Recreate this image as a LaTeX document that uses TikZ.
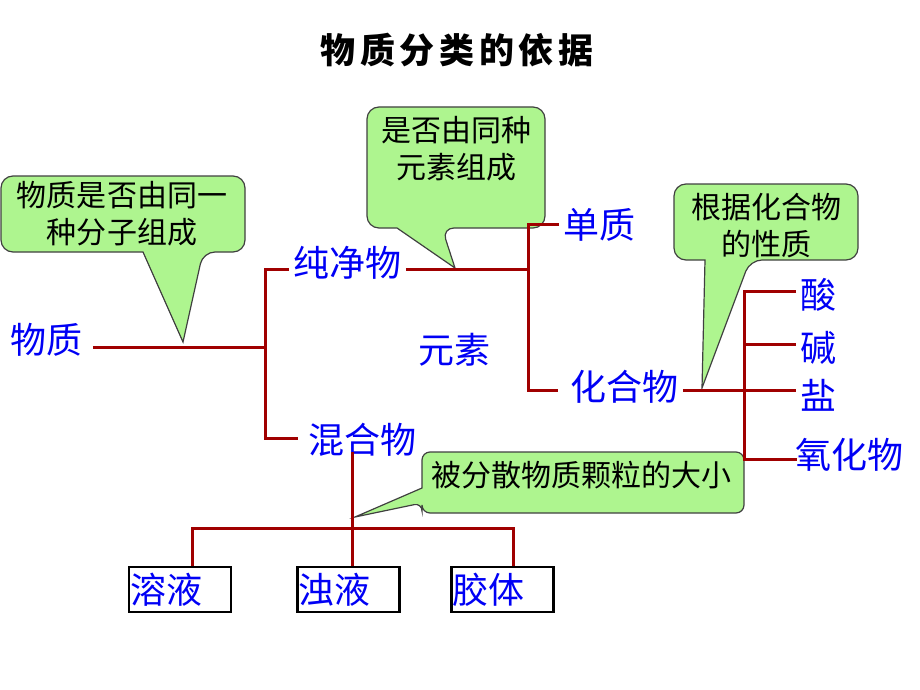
\documentclass[tikz,border=0pt]{standalone}
\usepackage{fontspec}
\setmainfont{Noto Sans CJK SC}
\usetikzlibrary{positioning}
\definecolor{linkred}{RGB}{160,0,0}
\definecolor{leafblue}{RGB}{0,0,245}
\definecolor{bubblegreen}{RGB}{174,245,143}
\begin{document}
\begin{tikzpicture}[x=0.5pt, y=-0.5pt,
  title/.style={font=\bfseries\fontsize{17.5}{20}\selectfont\addfontfeatures{LetterSpace=13}},
  leaf/.style={font=\fontsize{18}{21}\selectfont, text=leafblue, inner xsep=2pt, inner ysep=1pt, anchor=west},
  note/.style={font=\fontsize{15}{18.5}\selectfont, align=center, inner sep=0pt},
  bubble/.style={fill=bubblegreen, draw=black!75, line width=0.6pt, rounded corners=6pt},
  tube/.style={draw, line width=1.2pt, font=\fontsize{18}{21}\selectfont, text=leafblue,
    text width=50pt, align=left, inner xsep=0.5pt, inner ysep=0.5pt, minimum height=22.5pt},
  branch/.style={draw=linkred, line width=1.5pt}
]
\useasboundingbox (0,0) rectangle (920,690);

% Title
\node[title] (head) at (457,50) {物质分类的依据};

% ============================================
% Callout bubbles
% ============================================
\path[bubble] (60,176) -- (245,176) -- (245,252) -- (203,252) [sharp corners] -- (183,342)
  -- (143,252) [rounded corners=6pt] -- (1,252) -- (1,176) -- cycle;
\node[note] (why1) at (122,214) {物质是否由同一\\种分子组成};

\path[bubble] (456,107) -- (545,107) -- (545,228) -- (442,228) [sharp corners] -- (455,268)
  -- (397,228) [rounded corners=6pt] -- (367,228) -- (367,107) -- cycle;
\node[note] (why2) at (456,149) {是否由同种\\元素组成};

\path[bubble] (766,184) -- (858,184) -- (858,260) -- (750,260) [sharp corners] -- (702,388)
  -- (705,260) [rounded corners=6pt] -- (674,260) -- (674,184) -- cycle;
\node[note] (why3) at (766,226) {根据化合物\\的性质};

\path[bubble, rounded corners=4pt] (580,452) -- (744,452) -- (744,513) -- (422,513) -- (422,503)
  [sharp corners] -- (355,517) -- (422,488) [rounded corners=4pt] -- (422,452) -- cycle;
\node[note] (why4) at (581,475) {被分散物质颗粒的大小};

% ============================================
% Classes
% ============================================
\node[leaf] (matter) at (6,340) {物质};
\node[leaf] (pure) at (289,263) {纯净物};
\node[leaf] (mix) at (304,440) {混合物};
\node[leaf] (elem) at (414,350) {元素};
\node[leaf] (simple) at (559,225) {单质};
\node[leaf] (comp) at (566,387) {化合物};
\node[leaf] (acid) at (796,295) {酸};
\node[leaf] (base) at (796,348) {碱};
\node[leaf] (salt) at (796,395) {盐};
\node[leaf] (oxide) at (791,455) {氧化物};

\node[tube] (sol) at (180,589.5) {溶液};
\node[tube] (susp) at (348.5,589.5) {浊液};
\node[tube] (coll) at (502.5,589.5) {胶体};

% ============================================
% Links
% ============================================
\coordinate (aM) at (265,347);
\coordinate (aT) at (265,269);
\coordinate (aB) at (265,438);
\draw[branch, shorten <=3pt] (matter.east |- aM) -- (aM);
\draw[branch, shorten >=-0.5pt] (pure.west |- aT) -- (aT) -- (aB) -- ([xshift=-3.5pt]mix.west |- aB);

\coordinate (bT) at (528,224);
\coordinate (bM) at (528,269);
\coordinate (bB) at (528,390);
\draw[branch] (pure.east |- bM) -- (bM);
\draw[branch] (simple.west |- bT) -- (bT) -- (bB) -- ([xshift=-4pt]comp.west |- bB);

\coordinate (cT) at (744,291);
\coordinate (cJ) at (744,344);
\coordinate (cY) at (744,390);
\coordinate (cB) at (744,459);
\draw[branch] (comp.east |- cY) -- (salt.west |- cY);
\draw[branch] (acid.west |- cT) -- (cT) -- (cB) -- ([xshift=3pt]oxide.west |- cB);
\draw[branch] (cJ) -- (base.west |- cJ);

\coordinate (mTop) at (352,452);
\coordinate (mL) at (192,528);
\coordinate (mR) at (513,528);
\draw[branch] (mTop) -- (mTop |- susp.north);
\draw[branch] (mL |- sol.north) -- (mL) -- (mR) -- (mR |- coll.north);

\end{tikzpicture}
\end{document}
